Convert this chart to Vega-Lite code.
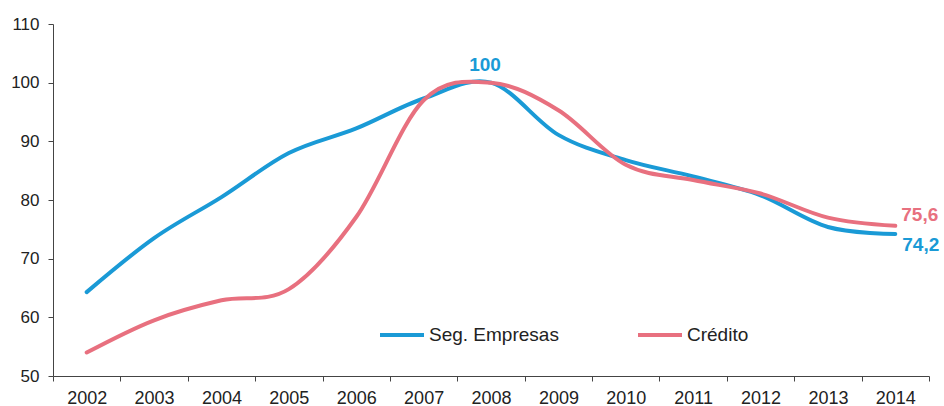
{
  "$schema": "https://vega.github.io/schema/vega-lite/v6.json",
  "width": 876,
  "height": 352,
  "autosize": {"type": "none"},
  "padding": {"left": 53, "top": 24, "right": 15, "bottom": 30},
  "background": "white",
  "config": {
    "view": {"stroke": null},
    "font": "Liberation Sans",
    "axis": {"domainColor": "#444", "tickColor": "#444", "labelColor": "#222", "labelFontSize": 17, "tickSize": 5, "grid": false, "title": null}
  },
  "datasets": {
    "lines": [
      {"series": "Seg. Empresas", "year": 2002, "value": 64.3},
      {"series": "Seg. Empresas", "year": 2003, "value": 73.5},
      {"series": "Seg. Empresas", "year": 2004, "value": 80.5},
      {"series": "Seg. Empresas", "year": 2005, "value": 88.0},
      {"series": "Seg. Empresas", "year": 2006, "value": 92.2},
      {"series": "Seg. Empresas", "year": 2007, "value": 97.3},
      {"series": "Seg. Empresas", "year": 2008, "value": 100.0},
      {"series": "Seg. Empresas", "year": 2009, "value": 91.1},
      {"series": "Seg. Empresas", "year": 2010, "value": 86.8},
      {"series": "Seg. Empresas", "year": 2011, "value": 84.0},
      {"series": "Seg. Empresas", "year": 2012, "value": 80.8},
      {"series": "Seg. Empresas", "year": 2013, "value": 75.4},
      {"series": "Seg. Empresas", "year": 2014, "value": 74.2},
      {"series": "Crédito", "year": 2002, "value": 54.0},
      {"series": "Crédito", "year": 2003, "value": 59.5},
      {"series": "Crédito", "year": 2004, "value": 62.9},
      {"series": "Crédito", "year": 2005, "value": 64.8},
      {"series": "Crédito", "year": 2006, "value": 77.1},
      {"series": "Crédito", "year": 2007, "value": 97.0},
      {"series": "Crédito", "year": 2008, "value": 100.0},
      {"series": "Crédito", "year": 2009, "value": 95.3},
      {"series": "Crédito", "year": 2010, "value": 86.0},
      {"series": "Crédito", "year": 2011, "value": 83.4},
      {"series": "Crédito", "year": 2012, "value": 81.1},
      {"series": "Crédito", "year": 2013, "value": 77.0},
      {"series": "Crédito", "year": 2014, "value": 75.6}
    ],
    "labels": [
      {"id": "peak", "series": "Seg. Empresas", "year": 2008, "value": 100, "label": "100"},
      {"id": "red", "series": "Crédito", "year": 2014, "value": 75.6, "label": "75,6"},
      {"id": "blue", "series": "Seg. Empresas", "year": 2014, "value": 74.2, "label": "74,2"}
    ]
  },
  "encoding": {
    "x": {
      "field": "year", "type": "quantitative",
      "scale": {"domain": [2001.5, 2014.5], "nice": false, "zero": false},
      "axis": {
        "values": [2001.5, 2002.5, 2003.5, 2004.5, 2005.5, 2006.5, 2007.5, 2008.5, 2009.5, 2010.5, 2011.5, 2012.5, 2013.5, 2014.5],
        "labelExpr": "datum.value < 2014 ? format(datum.value + 0.5, 'd') : ''",
        "labelOffset": 33.7,
        "labelOverlap": false,
        "labelBound": false,
        "labelFlush": false,
        "labelAlign": "center",
        "labelFontSize": 18,
        "labelPadding": 8
      }
    },
    "y": {
      "field": "value", "type": "quantitative",
      "scale": {"domain": [50, 110], "nice": false, "zero": false},
      "axis": {"values": [50, 60, 70, 80, 90, 100, 110], "labelPadding": 9}
    }
  },
  "layer": [
    {
      "data": {"name": "lines"},
      "mark": {"type": "line", "interpolate": "cardinal", "tension": 0, "strokeWidth": 4, "strokeCap": "round"},
      "encoding": {
        "color": {
          "field": "series", "type": "nominal",
          "scale": {"domain": ["Seg. Empresas", "Crédito"], "range": ["#1a9ad6", "#e8707f"]},
          "legend": {
            "orient": "none", "legendX": 325, "legendY": 287, "direction": "horizontal",
            "title": null, "symbolType": "stroke", "symbolSize": 1936, "symbolStrokeWidth": 4,
            "labelFontSize": 19, "labelColor": "#222", "labelOffset": 3, "columnPadding": 71, "padding": 0
          }
        }
      }
    },
    {
      "data": {"name": "labels"},
      "transform": [{"filter": "datum.id == 'peak'"}],
      "mark": {"type": "text", "fontSize": 19, "fontWeight": "bold", "color": "#1a9ad6", "align": "center", "baseline": "alphabetic", "dx": -6, "dy": -12},
      "encoding": {"text": {"field": "label"}}
    },
    {
      "data": {"name": "labels"},
      "transform": [{"filter": "datum.id == 'red'"}],
      "mark": {"type": "text", "fontSize": 19, "fontWeight": "bold", "color": "#e8707f", "align": "left", "baseline": "alphabetic", "dx": 6, "dy": -5},
      "encoding": {"text": {"field": "label"}}
    },
    {
      "data": {"name": "labels"},
      "transform": [{"filter": "datum.id == 'blue'"}],
      "mark": {"type": "text", "fontSize": 19, "fontWeight": "bold", "color": "#1a9ad6", "align": "left", "baseline": "alphabetic", "dx": 7, "dy": 17},
      "encoding": {"text": {"field": "label"}}
    }
  ]
}
